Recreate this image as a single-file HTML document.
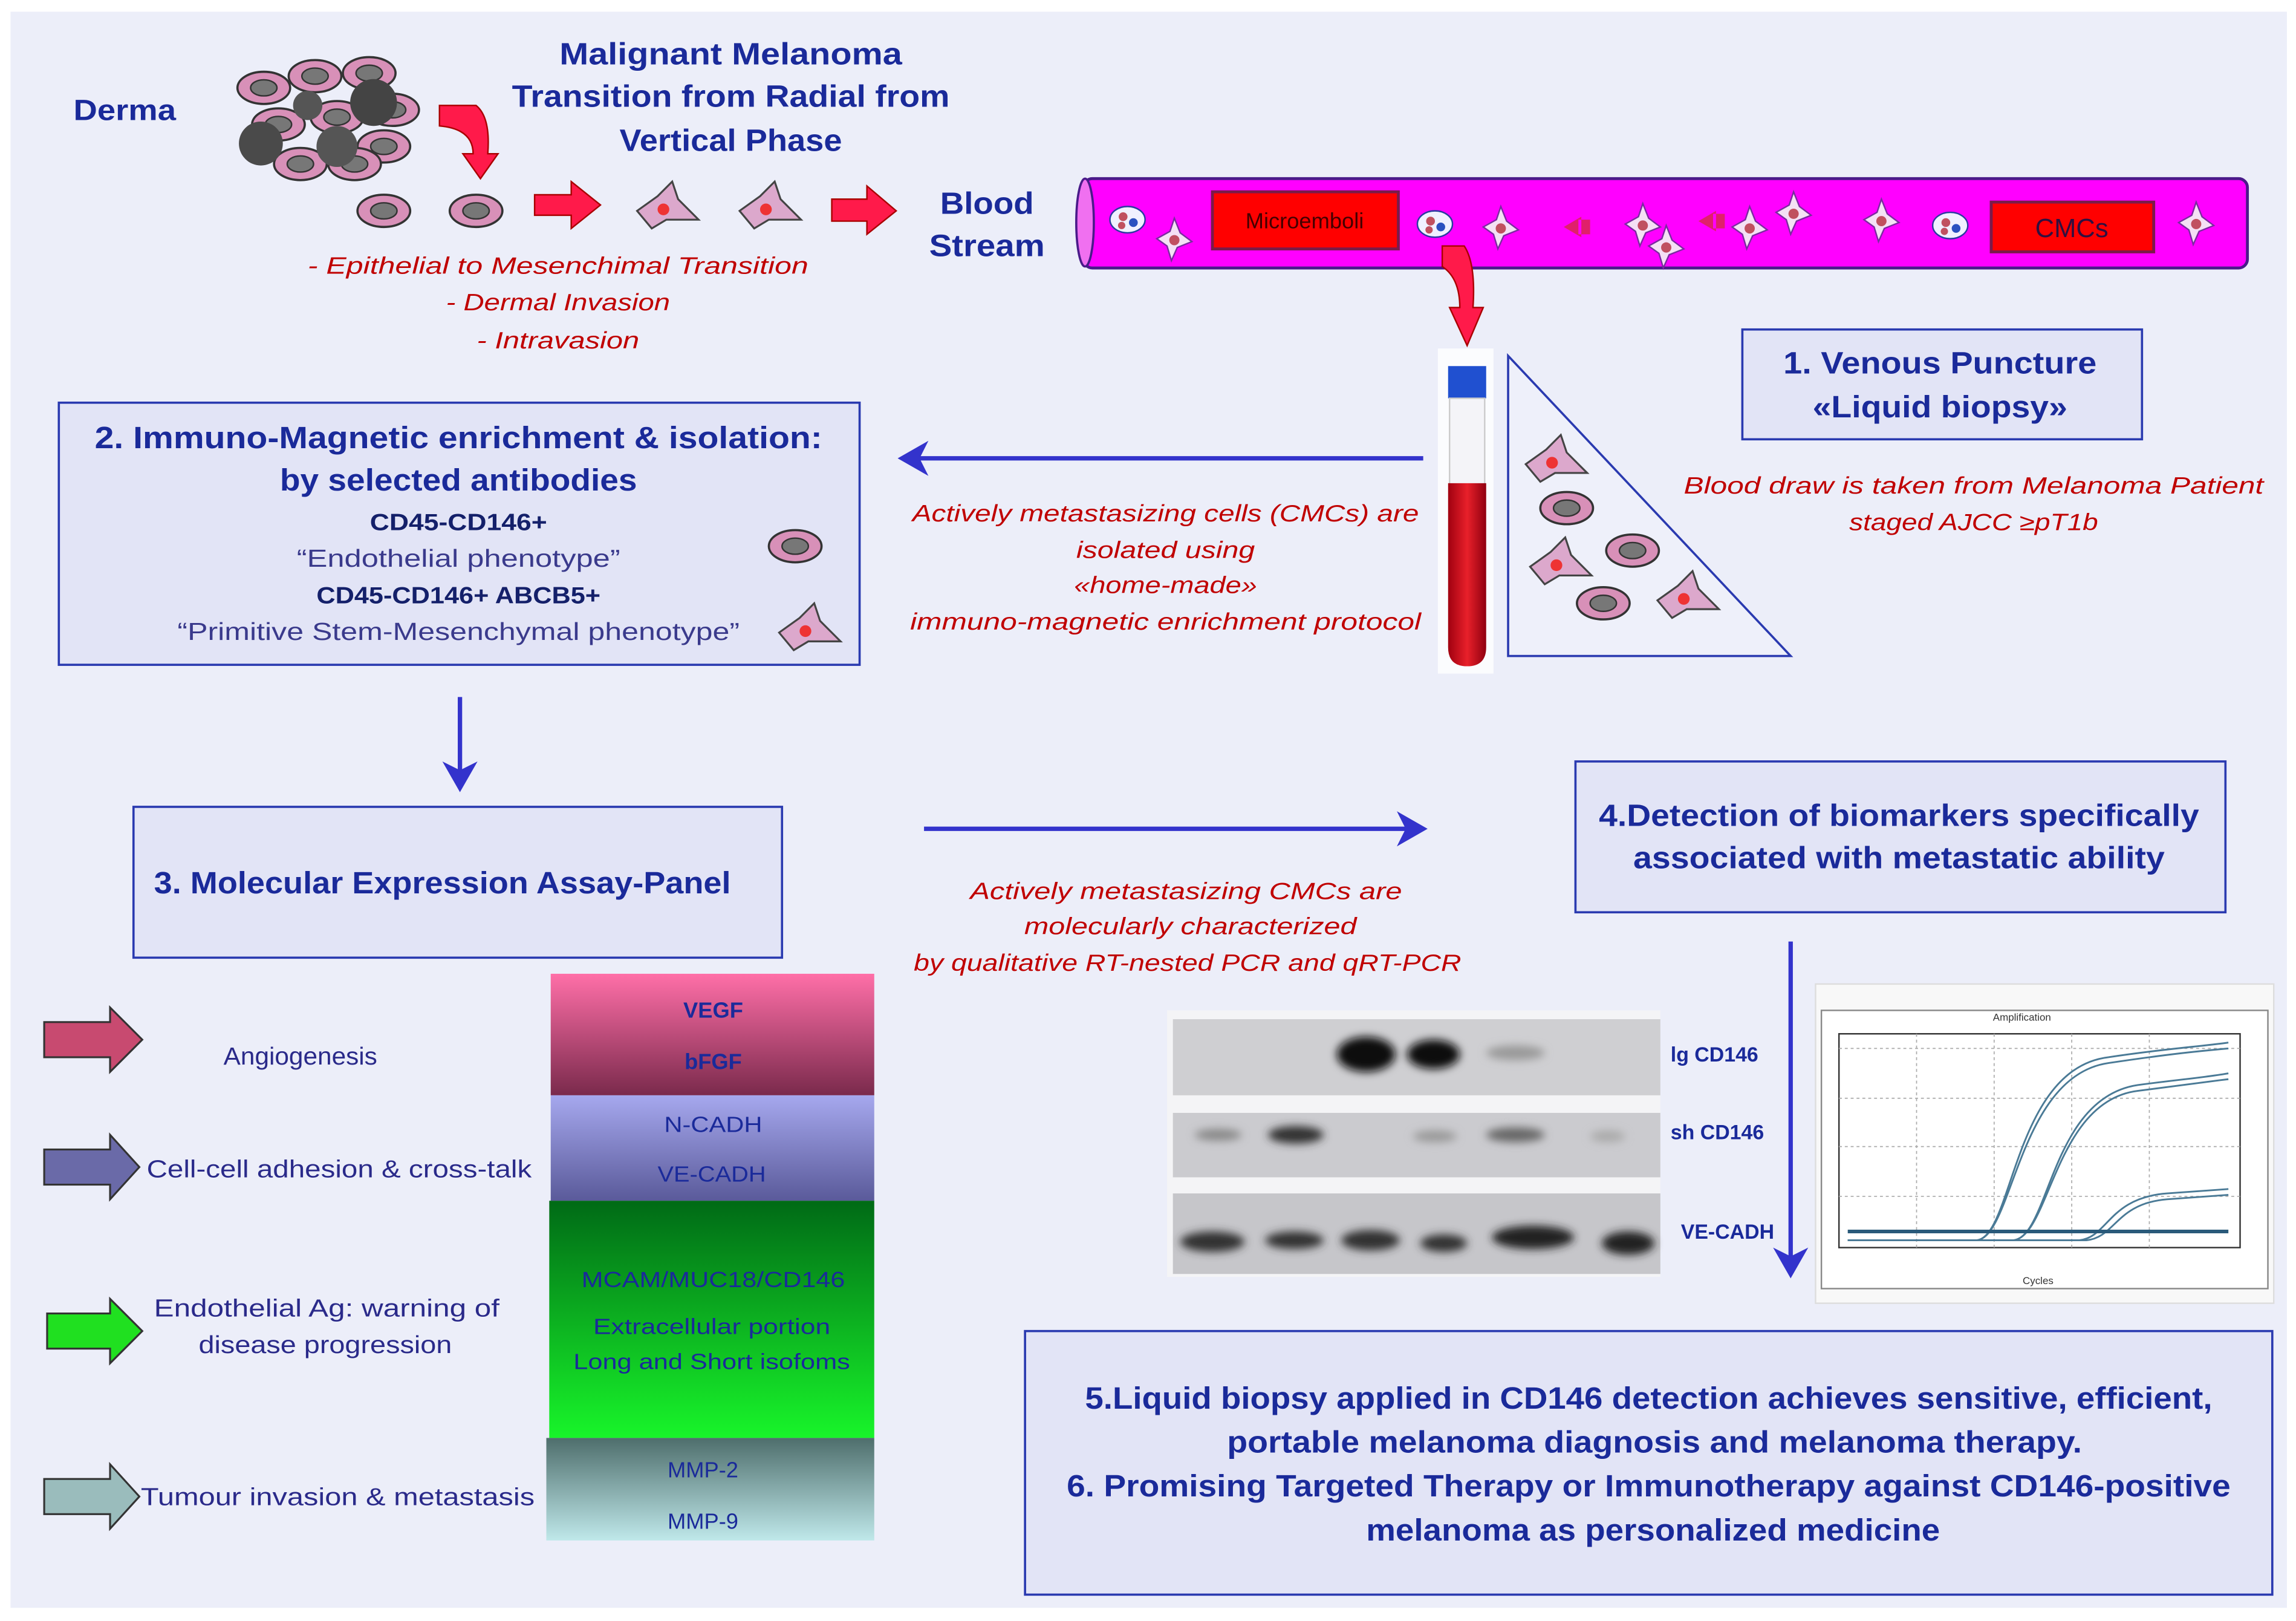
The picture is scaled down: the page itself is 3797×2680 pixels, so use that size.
<!DOCTYPE html>
<html><head><meta charset="utf-8"><style>
html,body{margin:0;padding:0;background:#fff}
svg{display:block}
text{font-family:"Liberation Sans",sans-serif}
.b{font-weight:bold;fill:#1a2a9a}
.r{font-style:italic;fill:#c00000;font-size:16px}
</style></head><body>
<svg width="3797" height="2680" viewBox="0 0 1568 1107" xmlns="http://www.w3.org/2000/svg">
<defs>
<linearGradient id="gp" x1="0" y1="0" x2="0" y2="1"><stop offset="0" stop-color="#ff6fa8"/><stop offset="1" stop-color="#7a2a4c"/></linearGradient>
<linearGradient id="gb" x1="0" y1="0" x2="0" y2="1"><stop offset="0" stop-color="#a6a8ee"/><stop offset="1" stop-color="#5a5a9a"/></linearGradient>
<linearGradient id="gg" x1="0" y1="0" x2="0" y2="1"><stop offset="0" stop-color="#006a16"/><stop offset="1" stop-color="#18f52a"/></linearGradient>
<linearGradient id="gt" x1="0" y1="0" x2="0" y2="1"><stop offset="0" stop-color="#4e6e6c"/><stop offset="1" stop-color="#bfe8ea"/></linearGradient>
<linearGradient id="gtube" x1="0" y1="0" x2="1" y2="0"><stop offset="0" stop-color="#a00010"/><stop offset=".5" stop-color="#e8202a"/><stop offset="1" stop-color="#900010"/></linearGradient>
<filter id="bl" x="-50%" y="-100%" width="200%" height="300%"><feGaussianBlur stdDeviation="3"/></filter>
<g id="oc"><ellipse cx="0" cy="0" rx="18" ry="11" fill="#d890b8" stroke="#333" stroke-width="1.5"/><ellipse cx="0" cy="0" rx="9" ry="5.5" fill="#777" stroke="#333"/></g>
<g id="sc"><polygon points="-20,4 -6,-6 4,-16 8,-4 22,10 0,10 -10,16" fill="#dca8cc" stroke="#444" stroke-width="1.3"/><circle cx="-2" cy="3" r="4" fill="#e33"/></g>
<g id="vc"><polygon points="-12,0 -3,-5 0,-14 4,-4 12,2 2,6 -2,15 -5,5" fill="#f4e0f4" stroke="#7a2aa0" stroke-width="1"/><circle cx="0" cy="1" r="3.5" fill="#c05060"/></g>
<g id="cl"><ellipse cx="0" cy="0" rx="12" ry="9" fill="#f0f0ff" stroke="#2a3aa0"/><circle cx="-3" cy="-2" r="3" fill="#c05060"/><circle cx="4" cy="2" r="3" fill="#2a50c0"/><circle cx="-4" cy="4" r="2.5" fill="#c05060"/></g>
<marker id="ah" markerWidth="8" markerHeight="8" refX="6" refY="4" orient="auto" markerUnits="strokeWidth"><path d="M0,0 L7,4 L0,8 L2,4z" fill="#3333cc"/></marker>
</defs>
<rect width="1568" height="1107" fill="#fff"/>
<rect x="7" y="8" width="1555" height="1090" fill="#eceef9"/>

<!-- top left -->
<text x="50" y="82" class="b" font-size="20" fill="#2040c0" textLength="70" lengthAdjust="spacingAndGlyphs">Derma</text>
<g class="b" font-size="21" text-anchor="middle">
<text x="499" y="44" textLength="234" lengthAdjust="spacingAndGlyphs">Malignant Melanoma</text>
<text x="499" y="73" textLength="299" lengthAdjust="spacingAndGlyphs">Transition from Radial from</text>
<text x="499" y="103" textLength="152" lengthAdjust="spacingAndGlyphs">Vertical Phase</text>
<text x="674" y="146" textLength="64" lengthAdjust="spacingAndGlyphs">Blood</text>
<text x="674" y="175" textLength="79" lengthAdjust="spacingAndGlyphs">Stream</text>
</g>
<!-- cluster -->
<g>
<use href="#oc" x="180" y="60"/><use href="#oc" x="215" y="52"/><use href="#oc" x="252" y="50"/><use href="#oc" x="268" y="75"/>
<use href="#oc" x="190" y="85"/><use href="#oc" x="230" y="80"/><use href="#oc" x="262" y="100"/><use href="#oc" x="205" y="112"/><use href="#oc" x="242" y="112"/>
<circle cx="255" cy="70" r="16" fill="#444"/><circle cx="178" cy="98" r="15" fill="#4a4a4a"/><circle cx="230" cy="100" r="14" fill="#555"/><circle cx="210" cy="72" r="10" fill="#555"/>
</g>
<path d="M300,72 L325,72 Q335,80 333,105 L340,105 L328,122 L316,105 L323,105 Q323,88 300,86z" fill="#ff1a4a" stroke="#a00" stroke-width="1"/>
<use href="#oc" x="262" y="144"/><use href="#oc" x="325" y="144"/>
<path d="M365,133 L390,133 L390,124 L410,140 L390,156 L390,147 L365,147z" fill="#ff1a4a" stroke="#a00"/>
<use href="#sc" x="455" y="140"/><use href="#sc" x="525" y="140"/>
<path d="M568,136 L592,136 L592,127 L612,144 L592,160 L592,151 L568,151z" fill="#ff1a4a" stroke="#a00"/>
<g class="r" text-anchor="middle" font-size="17">
<text x="381" y="187" textLength="342" lengthAdjust="spacingAndGlyphs">- Epithelial  to Mesenchimal  Transition</text>
<text x="381" y="212" textLength="153" lengthAdjust="spacingAndGlyphs">- Dermal Invasion</text>
<text x="381" y="238" textLength="111" lengthAdjust="spacingAndGlyphs">- Intravasion</text>
</g>

<!-- vessel -->
<rect x="740" y="122" width="795" height="61" fill="#ff00ff" stroke="#4a1a8a" stroke-width="2" rx="6"/>
<ellipse cx="741" cy="152" rx="6" ry="30" fill="#f070f0" stroke="#4a1a8a" stroke-width="1.5"/>
<rect x="828" y="131" width="127" height="39" fill="#ff0000" stroke="#7a1a4a" stroke-width="2"/>
<text x="891" y="156" text-anchor="middle" font-size="15" fill="#400">Microemboli</text>
<rect x="1360" y="138" width="111" height="34" fill="#ff0000" stroke="#7a1a4a" stroke-width="2"/>
<text x="1415" y="162" text-anchor="middle" font-size="18" fill="#301040">CMCs</text>
<use href="#cl" x="770" y="150"/><use href="#vc" x="802" y="163"/><use href="#cl" x="980" y="153"/><use href="#vc" x="1025" y="155"/>
<path d="M1080,148 L1068,155 L1080,162z M1078,150 h8 v10 h-8z" fill="#e0206a"/>
<use href="#vc" x="1122" y="153"/><use href="#vc" x="1138" y="168"/>
<path d="M1172,144 L1160,151 L1172,158z M1170,146 h8 v10 h-8z" fill="#e0206a"/>
<use href="#vc" x="1195" y="155"/><use href="#vc" x="1225" y="145"/><use href="#vc" x="1285" y="150"/><use href="#cl" x="1332" y="154"/><use href="#vc" x="1500" y="152"/>
<path d="M985,168 L1000,168 Q1008,180 1006,210 L1013,210 L1002,236 L990,210 L997,210 Q997,190 985,182z" fill="#ff1a4a" stroke="#a00"/>

<!-- tube -->
<rect x="982" y="238" width="38" height="222" fill="#fff" opacity=".8"/>
<rect x="989" y="250" width="26" height="22" fill="#2050d0"/>
<rect x="990" y="272" width="24" height="60" fill="#f4f4f8" stroke="#ccc"/>
<path d="M989,330 H1015 V442 Q1015,455 1002,455 Q989,455 989,442z" fill="url(#gtube)"/>
<polygon points="1030,243 1030,448 1223,448" fill="#eef0fa" stroke="#2a3ab0" stroke-width="1.5"/>
<use href="#sc" x="1062" y="313"/><use href="#oc" x="1070" y="347"/><use href="#sc" x="1065" y="383"/><use href="#oc" x="1115" y="376"/><use href="#oc" x="1095" y="412"/><use href="#sc" x="1152" y="406"/>

<!-- box1 -->
<rect x="1190" y="225" width="273" height="75" fill="#e2e4f6" stroke="#2a3ab0" stroke-width="1.5"/>
<g class="b" font-size="21" text-anchor="middle"><text x="1325" y="255" textLength="214" lengthAdjust="spacingAndGlyphs">1. Venous Puncture</text><text x="1325" y="285" textLength="174" lengthAdjust="spacingAndGlyphs">«Liquid biopsy»</text></g>
<g class="r" text-anchor="middle" font-size="17"><text x="1348" y="337" textLength="396" lengthAdjust="spacingAndGlyphs">Blood draw is taken from Melanoma  Patient</text><text x="1348" y="362" textLength="170" lengthAdjust="spacingAndGlyphs">staged  AJCC ≥pT1b</text></g>

<!-- box2 -->
<rect x="40" y="275" width="547" height="179" fill="#e2e4f6" stroke="#2a3ab0" stroke-width="1.5"/>
<g text-anchor="middle">
<text x="313" y="306" class="b" font-size="21" textLength="497" lengthAdjust="spacingAndGlyphs">2. Immuno-Magnetic  enrichment &amp; isolation:</text>
<text x="313" y="335" class="b" font-size="21" textLength="244" lengthAdjust="spacingAndGlyphs">by selected antibodies</text>
<text x="313" y="362" font-size="16" font-weight="bold" fill="#14206a" textLength="121" lengthAdjust="spacingAndGlyphs">CD45-CD146+</text>
<text x="313" y="387" font-size="17" fill="#3a3a8c" textLength="221" lengthAdjust="spacingAndGlyphs">“Endothelial  phenotype”</text>
<text x="313" y="412" font-size="16" font-weight="bold" fill="#14206a" textLength="194" lengthAdjust="spacingAndGlyphs">CD45-CD146+ ABCB5+</text>
<text x="313" y="437" font-size="17" fill="#3a3a8c" textLength="384" lengthAdjust="spacingAndGlyphs">“Primitive Stem-Mesenchymal  phenotype”</text>
</g>
<use href="#oc" x="543" y="373"/><use href="#sc" x="552" y="428"/>
<line x1="972" y1="313" x2="616" y2="313" stroke="#3333cc" stroke-width="3" marker-end="url(#ah)"/>
<g class="r" text-anchor="middle" font-size="17">
<text x="796" y="356" textLength="346" lengthAdjust="spacingAndGlyphs">Actively  metastasizing  cells  (CMCs) are</text>
<text x="796" y="381" textLength="122" lengthAdjust="spacingAndGlyphs">isolated  using</text>
<text x="796" y="405" textLength="125" lengthAdjust="spacingAndGlyphs">«home-made»</text>
<text x="796" y="430" textLength="349" lengthAdjust="spacingAndGlyphs">immuno-magnetic  enrichment  protocol</text>
</g>
<line x1="314" y1="476" x2="314" y2="538" stroke="#3333cc" stroke-width="3" marker-end="url(#ah)"/>

<!-- box3 -->
<rect x="91" y="551" width="443" height="103" fill="#e2e4f6" stroke="#2a3ab0" stroke-width="1.5"/>
<text x="105" y="610" class="b" font-size="21" textLength="394" lengthAdjust="spacingAndGlyphs">3. Molecular Expression Assay-Panel</text>
<line x1="631" y1="566" x2="972" y2="566" stroke="#3333cc" stroke-width="3" marker-end="url(#ah)"/>
<g class="r" text-anchor="middle" font-size="17">
<text x="810" y="614" textLength="295" lengthAdjust="spacingAndGlyphs">Actively  metastasizing  CMCs  are</text>
<text x="813" y="638" textLength="227" lengthAdjust="spacingAndGlyphs">molecularly  characterized</text>
<text x="811" y="663" textLength="374" lengthAdjust="spacingAndGlyphs">by qualitative  RT-nested  PCR and  qRT-PCR</text>
</g>

<!-- box4 -->
<rect x="1076" y="520" width="444" height="103" fill="#e2e4f6" stroke="#2a3ab0" stroke-width="1.5"/>
<g class="b" font-size="21" text-anchor="middle"><text x="1297" y="564" textLength="410" lengthAdjust="spacingAndGlyphs">4.Detection of biomarkers specifically</text><text x="1297" y="593" textLength="363" lengthAdjust="spacingAndGlyphs">associated with metastatic ability</text></g>
<line x1="1223" y1="643" x2="1223" y2="870" stroke="#3333cc" stroke-width="3" marker-end="url(#ah)"/>

<!-- gel -->
<rect x="797" y="690" width="337" height="182" fill="#f4f4f6"/>
<rect x="801" y="696" width="333" height="52" fill="#cfcfd2"/>
<rect x="801" y="760" width="333" height="44" fill="#cbcbcf"/>
<rect x="801" y="815" width="333" height="55" fill="#c6c6ca"/>
<g fill="#111" filter="url(#bl)">
<ellipse cx="933" cy="720" rx="20" ry="12"/><ellipse cx="979" cy="720" rx="18" ry="10"/>
<ellipse cx="1035" cy="719" rx="20" ry="5" fill="#999"/>
<ellipse cx="832" cy="775" rx="16" ry="4" fill="#888"/><ellipse cx="885" cy="775" rx="19" ry="6" fill="#333"/>
<ellipse cx="980" cy="776" rx="15" ry="4" fill="#999"/><ellipse cx="1035" cy="775" rx="20" ry="5" fill="#666"/><ellipse cx="1098" cy="776" rx="12" ry="4" fill="#aaa"/>
<ellipse cx="828" cy="848" rx="22" ry="7" fill="#333"/><ellipse cx="884" cy="847" rx="20" ry="6" fill="#333"/><ellipse cx="936" cy="847" rx="20" ry="7" fill="#333"/>
<ellipse cx="986" cy="849" rx="16" ry="6" fill="#333"/><ellipse cx="1047" cy="845" rx="28" ry="8" fill="#222"/><ellipse cx="1112" cy="849" rx="18" ry="8" fill="#222"/>
</g>
<g class="b" font-size="14"><text x="1141" y="725">lg CD146</text><text x="1141" y="778">sh CD146</text><text x="1148" y="846">VE-CADH</text></g>

<!-- chart -->
<rect x="1240" y="672" width="313" height="218" fill="#f8f8f8" stroke="#ddd"/>
<rect x="1244" y="690" width="305" height="190" fill="#fff" stroke="#888"/>
<text x="1381" y="697" font-size="7" text-anchor="middle" fill="#333">Amplification</text>
<rect x="1256" y="706" width="274" height="146" fill="#fff" stroke="#333"/>
<g stroke="#aaa" stroke-dasharray="2,2" stroke-width=".7">
<line x1="1256" y1="716" x2="1530" y2="716"/><line x1="1256" y1="750" x2="1530" y2="750"/><line x1="1256" y1="783" x2="1530" y2="783"/><line x1="1256" y1="817" x2="1530" y2="817"/>
<line x1="1309" y1="706" x2="1309" y2="852"/><line x1="1362" y1="706" x2="1362" y2="852"/><line x1="1415" y1="706" x2="1415" y2="852"/><line x1="1468" y1="706" x2="1468" y2="852"/>
</g>
<g fill="none" stroke="#4a7a96" stroke-width="1.2">
<path d="M1262,847 H1350 C1375,845 1375,730 1440,722 C1480,716 1500,715 1522,712"/>
<path d="M1262,847 H1350 C1375,845 1378,735 1440,726 C1480,720 1500,718 1522,716"/>
<path d="M1262,847 H1375 C1400,845 1400,750 1460,741 C1490,737 1505,736 1522,733"/>
<path d="M1262,847 H1375 C1400,845 1403,752 1460,745 C1490,741 1505,739 1522,737"/>
<path d="M1262,847 H1420 C1440,845 1440,818 1480,815 L1522,812"/>
<path d="M1262,847 H1425 C1445,845 1445,822 1480,819 L1522,816"/>
</g>
<line x1="1262" y1="841" x2="1522" y2="841" stroke="#2a5a7a" stroke-width="2.5"/>
<text x="1392" y="877" font-size="7" text-anchor="middle" fill="#333">Cycles</text>

<!-- box5 -->
<rect x="700" y="909" width="852" height="180" fill="#e2e4f6" stroke="#2a3ab0" stroke-width="1.5"/>
<g class="b" font-size="21" text-anchor="middle">
<text x="1126" y="962" textLength="770" lengthAdjust="spacingAndGlyphs">5.Liquid biopsy applied in CD146 detection achieves sensitive, efficient,</text>
<text x="1130" y="992" textLength="584" lengthAdjust="spacingAndGlyphs">portable melanoma diagnosis and melanoma therapy.</text>
<text x="1126" y="1022" textLength="795" lengthAdjust="spacingAndGlyphs">6. Promising Targeted Therapy or Immunotherapy  against CD146-positive</text>
<text x="1129" y="1052" textLength="392" lengthAdjust="spacingAndGlyphs">melanoma as personalized medicine</text>
</g>

<!-- panel -->
<rect x="376" y="665" width="221" height="83" fill="url(#gp)"/>
<rect x="376" y="748" width="221" height="72" fill="url(#gb)"/>
<rect x="375" y="820" width="222" height="162" fill="url(#gg)"/>
<rect x="373" y="982" width="224" height="70" fill="url(#gt)"/>
<g text-anchor="middle" font-size="15" fill="#1a2a9a">
<text x="487" y="695" font-weight="bold">VEGF</text><text x="487" y="730" font-weight="bold">bFGF</text>
<text x="487" y="773" textLength="67" lengthAdjust="spacingAndGlyphs">N-CADH</text><text x="486" y="807" textLength="74" lengthAdjust="spacingAndGlyphs">VE-CADH</text>
<text x="487" y="879" textLength="180" lengthAdjust="spacingAndGlyphs">MCAM/MUC18/CD146</text><text x="486" y="911" textLength="162" lengthAdjust="spacingAndGlyphs">Extracellular portion</text><text x="486" y="935" textLength="189" lengthAdjust="spacingAndGlyphs">Long and Short isofoms</text>
<text x="480" y="1009">MMP-2</text><text x="480" y="1044">MMP-9</text>
</g>
<g stroke="#333" stroke-width="1.3">
<path d="M30,698 H75 V688 L97,710 L75,732 V722 H30z" fill="#c84a70"/>
<path d="M30,785 H75 V775 L95,797 L75,819 V809 H30z" fill="#6a6aa8"/>
<path d="M32,897 H75 V887 L97,909 L75,931 V921 H32z" fill="#20e020"/>
<path d="M30,1010 H75 V1000 L95,1022 L75,1044 V1034 H30z" fill="#9abcbc"/>
</g>
<g font-size="17" fill="#2a2a8a">
<text x="205" y="727" text-anchor="middle" textLength="105" lengthAdjust="spacingAndGlyphs">Angiogenesis</text>
<text x="100" y="804" textLength="263" lengthAdjust="spacingAndGlyphs">Cell-cell adhesion  &amp; cross-talk</text>
<text x="223" y="899" text-anchor="middle" textLength="236" lengthAdjust="spacingAndGlyphs">Endothelial  Ag: warning of</text>
<text x="222" y="924" text-anchor="middle" textLength="173" lengthAdjust="spacingAndGlyphs">disease progression</text>
<text x="96" y="1028" textLength="269" lengthAdjust="spacingAndGlyphs">Tumour invasion  &amp; metastasis</text>
</g>
</svg>
</body></html>
